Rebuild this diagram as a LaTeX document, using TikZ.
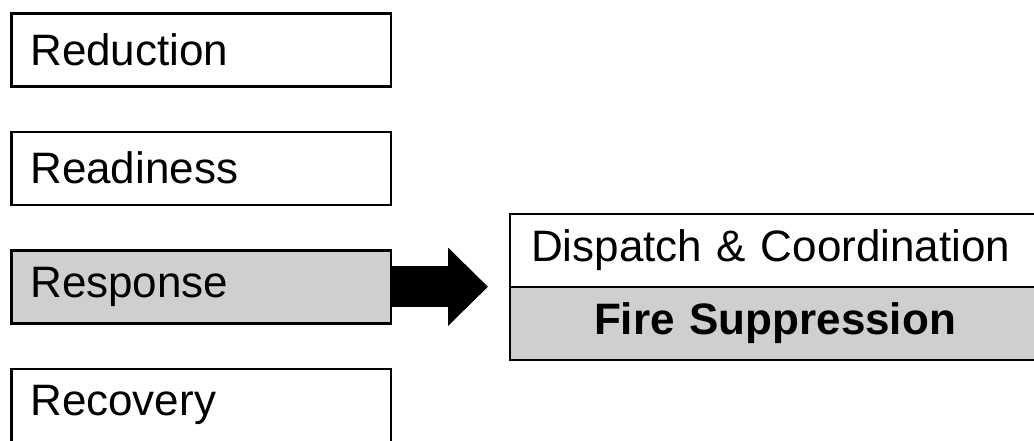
\documentclass[tikz,border=0pt]{standalone}
\usepackage{fontspec}
\setmainfont{Liberation Sans}
\usetikzlibrary{arrows.meta,positioning}
\definecolor{phasegray}{RGB}{208,206,207}

\begin{document}
\begin{tikzpicture}[x=1pt,y=1pt,node distance=43pt,
    every node/.style={font=\fontsize{44}{52}\selectfont},
    phase/.style={draw,line width=2.5pt,rectangle,minimum height=73pt,text width=341.5pt,inner xsep=19pt,align=left},
    task/.style={draw,line width=2.5pt,rectangle,minimum height=73pt,text width=488pt,inner xsep=21pt,outer sep=0pt},
    bigarrow/.style={line width=41pt,-{Triangle[length=40pt,width=76pt]},shorten >=22pt}]

    \useasboundingbox (0,0) rectangle (1034,-440);
    \clip (0,0) rectangle (1034,-440);

    % the four phases
    \node[phase,anchor=north west] (red) at (10,-12) {Reduction};
    \node[phase] (rdy) [below=of red] {Readiness};
    \node[phase,fill=phasegray] (resp) [below=of rdy] {Response};
    \node[phase] (rec) [below=of resp] {Recovery};

    % response tasks
    \node[task,align=left,anchor=north west] (disp) at (510,-214) {Dispatch \& Coordination};
    \node[task,align=center,fill=phasegray,font=\fontsize{44}{52}\selectfont\bfseries] (fire) [below=0pt of disp] {Fire Suppression};

    \draw[bigarrow] (resp.east) -- (resp.east -| disp.west);

\end{tikzpicture}
\end{document}
